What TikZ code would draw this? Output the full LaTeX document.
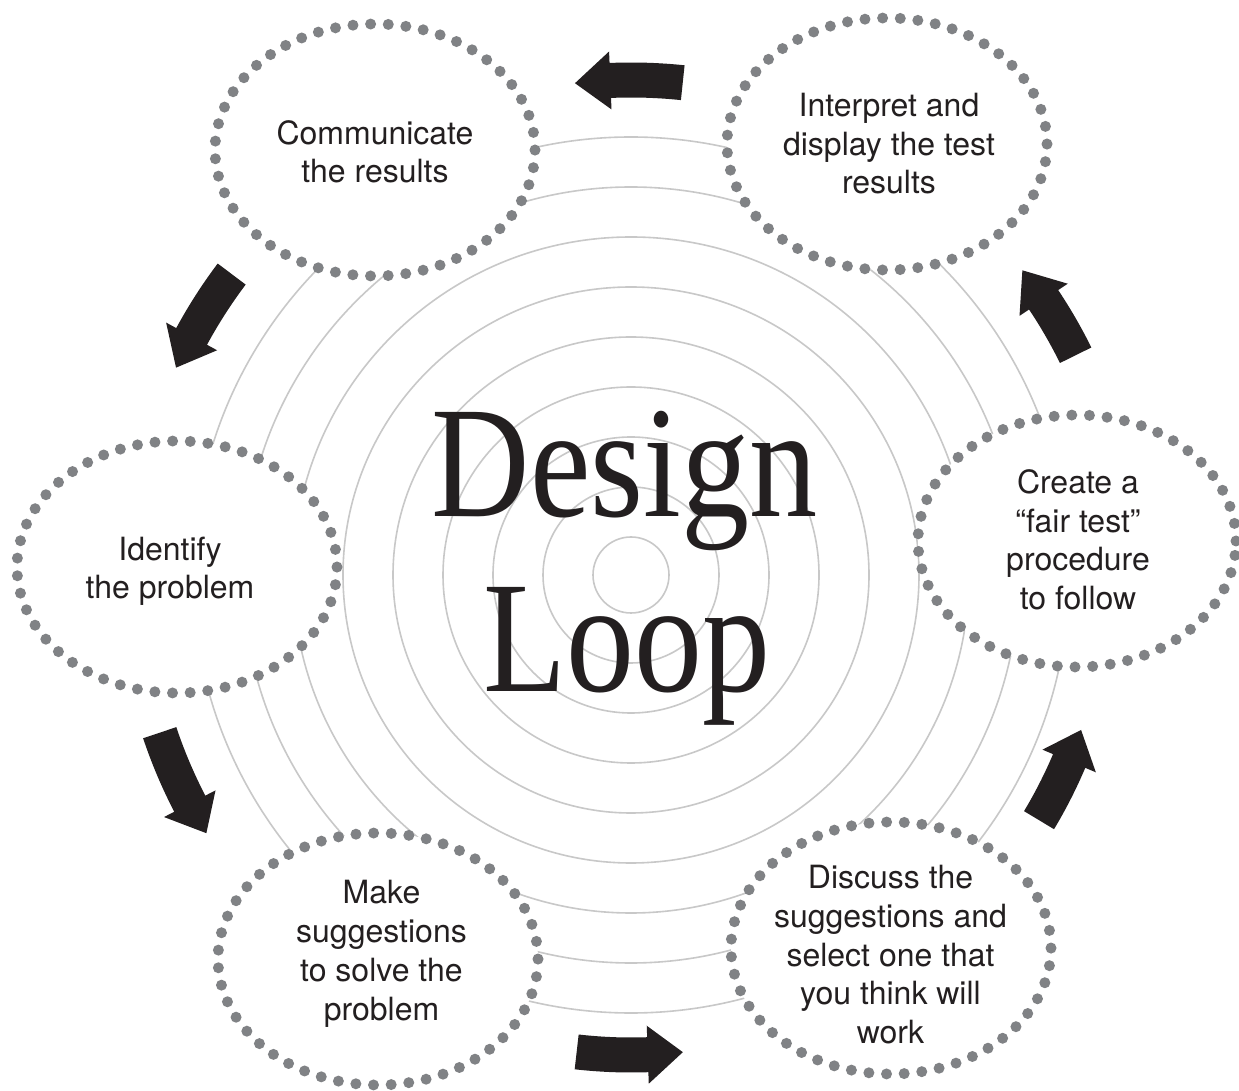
\documentclass[tikz,border=0pt]{standalone}
\usepackage{fontspec}
\setmainfont{TeX Gyre Heros}
\newfontfamily\titlefont{Liberation Serif}
\usetikzlibrary{shapes.geometric,calc}
\definecolor{dotgray}{HTML}{808285}
\definecolor{ink}{HTML}{231F20}
\definecolor{ringgray}{HTML}{C8C8C8}
\tikzset{
  ring/.style={draw=ringgray, line width=1.6pt},
  dotring/.style={ellipse, draw=dotgray, line width=11pt, line cap=round,
    dash pattern=on 0pt off 17.68pt, fill=white, inner sep=0pt, outer sep=0pt,
    minimum width=320pt, minimum height=252pt},
  labeltext/.style={text=ink, align=center, font=\fontsize{32}{38.7}\selectfont, inner sep=0pt},
  blockarrow/.style={fill=ink},
  titletext/.style={text=ink, font=\titlefont\fontsize{159}{159}\selectfont, inner sep=0pt, anchor=base}
}
\newcommand\loopArrow[4]{%
  \fill[blockarrow] ({#1}:{#4pt+17.5pt}) arc[start angle={#1}, end angle={#2}, radius={#4pt+17.5pt}]
    -- ({#2}:{#4pt+29pt}) -- ({#3}:{#4pt}) -- ({#2}:{#4pt-29pt}) -- ({#2}:{#4pt-17.5pt})
    arc[start angle={#2}, end angle={#1}, radius={#4pt-17.5pt}] -- cycle;}
\begin{document}
\begin{tikzpicture}[x=1pt,y=1pt]
\useasboundingbox (0,0) rectangle (1239,1090);
\fill[white] (0,0) rectangle (1239,1090);
\coordinate (C) at (631,515);
% concentric rings
\foreach \r in {38,88,...,438} \draw[ring] (C) circle[radius=\r pt];
% dotted ellipses
\node[dotring] (e1) at (375,940) {};
\node[dotring] (e2) at (887,946) {};
\node[dotring, minimum width=318pt] (e3) at (1077,549) {};
\node[dotring] (e4) at (177,523) {};
\node[dotring] (e5) at (378,131) {};
\node[dotring] (e6) at (891,142) {};
% labels
\node[labeltext] (t1) at (375,938.3) {Communicate\\the results};
\node[labeltext] (t2) at (889,946.3) {Interpret and\\display the test\\results};
\node[labeltext] (t3) at (1078,550.3) {Create a\\``fair test''\\procedure\\to follow};
\node[labeltext] (t4) at (170,518.6) {Identify\\the problem};
\node[labeltext] (t5) at (381.5,136.2) {Make\\suggestions\\to solve the\\problem};
\node[labeltext] (t6) at (890.5,135.3) {Discuss the\\suggestions and\\select one that\\you think will\\work};
% title
\node[titletext, xscale=0.857] (design) at (625,573) {Design};
\node[titletext, xscale=0.855] (loop) at (626.5,398) {Loop};
% block arrows
\begin{scope}[shift={(C)}]
\loopArrow{84}{92.4}{96.5}{495}
\loopArrow{143}{151.5}{155.5}{500}
\loopArrow{198.5}{207.4}{211.3}{497}
\loopArrow{263.5}{272}{276.2}{480}
\loopArrow{329}{337}{341}{476}
\loopArrow{26.3}{33.7}{37.9}{496}
\end{scope}
\end{tikzpicture}
\end{document}
